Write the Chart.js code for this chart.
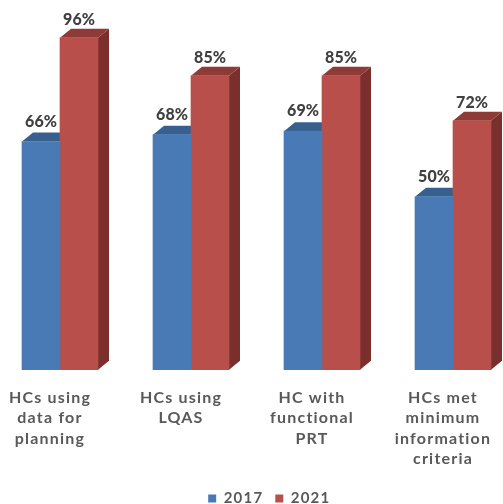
<!DOCTYPE html>
<html>
<head>
<meta charset="utf-8">
<style>
  html, body { margin: 0; padding: 0; background: #fff; }
  canvas { display: block; }
</style>
<script src="https://cdn.jsdelivr.net/npm/chart.js@4"></script>
</head>
<body>
<canvas id="chart" width="503" height="504"></canvas>
<script>
const categorias = [
  ['HCs using', 'data for', 'planning'],
  ['HCs using', 'LQAS'],
  ['HC with', 'functional', 'PRT'],
  ['HCs met', 'minimum', 'information', 'criteria']
];
const valores2017 = [66, 68, 69, 50];
const valores2021 = [96, 85, 85, 72];

const profX = 11;
const profY = 9;
const corTopo = ['#37608f', '#8e3a37'];
const corLado = ['#2f5480', '#7a2f2d'];
const distRotulo = [20, 18];

// Faces laterais e de cima das barras, e os rótulos de valor
const barras3d = {
  id: 'barras3d',
  beforeDraw(chart) {
    chart.ctx.letterSpacing = '1.2px';
  },
  afterLayout(chart) {
    chart.legend.left += 8;
    chart.legend.right += 8;
  },
  beforeDatasetsDraw(chart) {
    const ctx = chart.ctx;
    chart.data.datasets.forEach((ds, i) => {
      chart.getDatasetMeta(i).data.forEach(bar => {
        const esq = bar.x - bar.width / 2;
        const dir = bar.x + bar.width / 2;

        ctx.fillStyle = corLado[i];
        ctx.beginPath();
        ctx.moveTo(dir, bar.y);
        ctx.lineTo(dir + profX, bar.y - profY);
        ctx.lineTo(dir + profX, bar.base - profY);
        ctx.lineTo(dir, bar.base);
        ctx.closePath();
        ctx.fill();

        ctx.fillStyle = corTopo[i];
        ctx.beginPath();
        ctx.moveTo(esq, bar.y);
        ctx.lineTo(esq + profX, bar.y - profY);
        ctx.lineTo(dir + profX, bar.y - profY);
        ctx.lineTo(dir, bar.y);
        ctx.closePath();
        ctx.fill();
      });
    });
  },
  afterDatasetsDraw(chart) {
    const ctx = chart.ctx;
    ctx.save();
    ctx.letterSpacing = '0px';
    ctx.font = '900 16px Lato';
    ctx.fillStyle = '#404040';
    ctx.textAlign = 'center';
    ctx.textBaseline = 'middle';
    chart.data.datasets.forEach((ds, i) => {
      chart.getDatasetMeta(i).data.forEach((bar, j) => {
        ctx.fillText(ds.data[j] + '%', bar.x, bar.y - distRotulo[i]);
      });
    });
    ctx.restore();
  }
};

new Chart(document.getElementById('chart'), {
  type: 'bar',
  data: {
    labels: categorias,
    datasets: [
      { label: '2017', data: valores2017, backgroundColor: '#4a7ab5', barThickness: 38, clip: false },
      { label: '2021', data: valores2021, backgroundColor: '#b94f4b', barThickness: 38, clip: false }
    ]
  },
  options: {
    responsive: false,
    animation: false,
    layout: { padding: { left: 60, right: 50, top: 24, bottom: -12 } },
    plugins: {
      tooltip: { enabled: false },
      legend: {
        position: 'bottom',
        labels: {
          boxWidth: 8,
          boxHeight: 8,
          padding: 12,
          color: '#595959',
          font: { family: 'Lato', weight: 'bold', size: 15 }
        }
      }
    },
    scales: {
      x: {
        offset: false,
        grid: { display: false },
        border: { display: false },
        afterFit(scale) {
          scale.paddingLeft = 0;
          scale.paddingRight = 0;
        },
        ticks: {
          autoSkip: false,
          maxRotation: 0,
          labelOffset: -10,
          padding: 10,
          color: '#595959',
          font: { family: 'Lato', weight: 'bold', size: 16, lineHeight: 1.27 }
        }
      },
      y: { display: false, min: 0, max: 100 }
    }
  },
  plugins: [barras3d]
});
</script>
</body>
</html>
